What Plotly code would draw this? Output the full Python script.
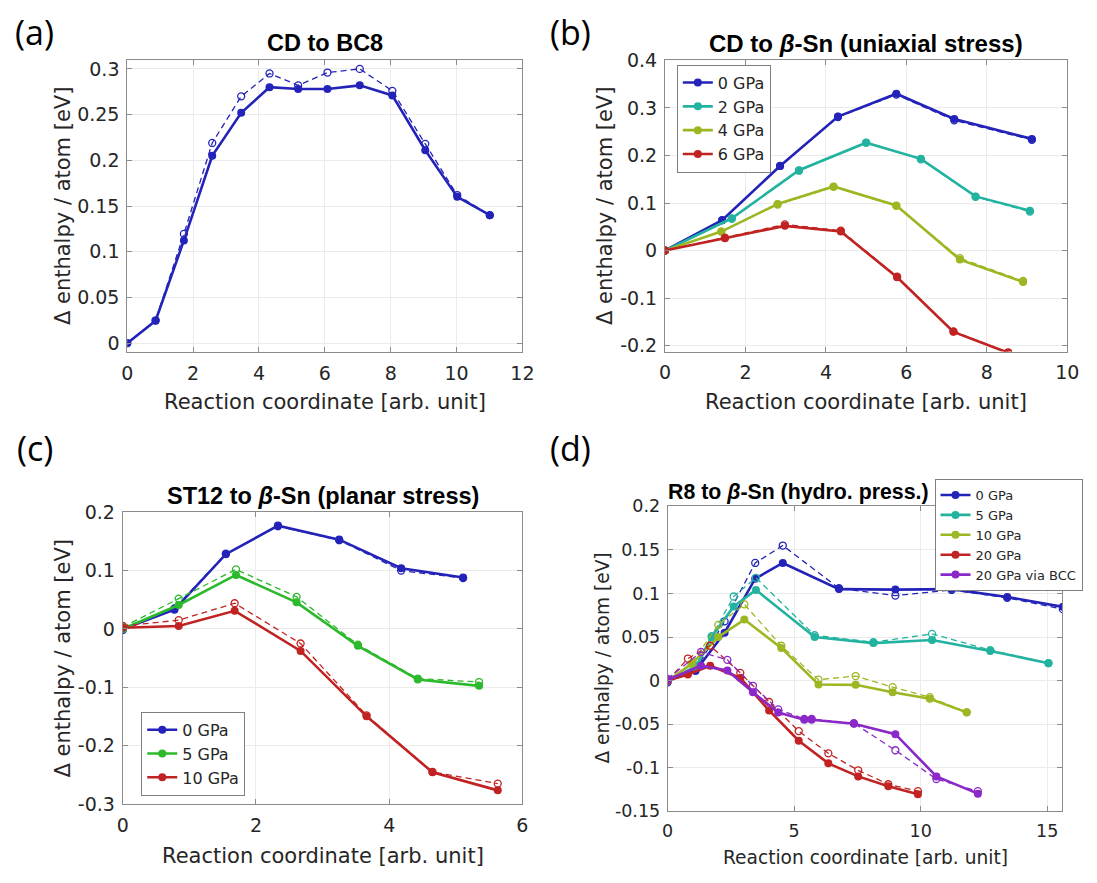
import plotly.graph_objects as go

W, H = 1097, 883

BLUE = '#2323b9'
TEAL = '#22b3a0'
OLIVE = '#9bb722'
RED = '#c12222'
GREEN = '#2cb92c'
PURPLE = '#8b28c8'

# ---- (a) CD to BC8 ----
a_x = [0, 0.86, 1.72, 2.58, 3.46, 4.32, 5.19, 6.08, 7.06, 8.05, 9.05, 10.02, 11.01]
a_solid = [0, 0.0245, 0.1124, 0.205, 0.252, 0.280, 0.278, 0.278, 0.282, 0.271, 0.211, 0.160, 0.140]
a_dash = [0, 0.025, 0.1195, 0.219, 0.270, 0.295, 0.282, 0.296, 0.300, 0.276, 0.218, 0.162, 0.140]

# ---- (b) CD to beta-Sn, uniaxial stress ----
b_labels = ['0 GPa', '2 GPa', '4 GPa', '6 GPa']
b0_x = [0, 1.42, 2.86, 4.30, 5.75, 7.19, 9.12]
b0 = [0, 0.064, 0.178, 0.282, 0.330, 0.277, 0.235]
b0_d = [0, 0.064, 0.178, 0.281, 0.328, 0.274, 0.233]
b2_x = [0, 1.66, 3.33, 5.00, 6.36, 7.72, 9.07]
b2 = [0, 0.068, 0.169, 0.227, 0.193, 0.114, 0.084]
b2_d = [0, 0.067, 0.168, 0.227, 0.192, 0.113, 0.082]
b4_x = [0, 1.40, 2.80, 4.19, 5.75, 7.33, 8.90]
b4 = [0, 0.040, 0.098, 0.135, 0.095, -0.019, -0.066]
b4_d = [0, 0.040, 0.097, 0.134, 0.094, -0.016, -0.064]
b6_x = [0, 1.49, 2.98, 4.37, 5.77, 7.17, 8.53]
b6 = [0, 0.026, 0.052, 0.040, -0.056, -0.171, -0.215]
b6_d = [0, 0.027, 0.055, 0.042, -0.055, -0.170, -0.214]

# ---- (c) ST12 to beta-Sn, planar stress ----
c_labels = ['0 GPa', '5 GPa', '10 GPa']
c0_x = [0, 0.776, 1.548, 2.33, 3.25, 4.18, 5.11]
c0 = [0, 0.033, 0.128, 0.177, 0.153, 0.104, 0.088]
c0_d = [-0.002, 0.035, 0.129, 0.176, 0.152, 0.100, 0.087]
c5_x = [0, 0.84, 1.70, 2.61, 3.53, 4.43, 5.35]
c5 = [0, 0.041, 0.0925, 0.0455, -0.029, -0.0865, -0.0975]
c5_d = [0.003, 0.052, 0.102, 0.055, -0.027, -0.085, -0.091]
c10_x = [0, 0.84, 1.68, 2.67, 3.66, 4.65, 5.63]
c10 = [0.002, 0.005, 0.031, -0.0377, -0.1497, -0.2456, -0.2766]
c10_d = [0.005, 0.015, 0.044, -0.025, -0.148, -0.245, -0.265]

# ---- (d) R8 to beta-Sn, hydrostatic pressure ----
d_labels = ['0 GPa', '5 GPa', '10 GPa', '20 GPa', '20 GPa via BCC']
d0_x = [0, 1.1, 2.25, 3.46, 4.55, 6.77, 9.0, 11.22, 13.42, 15.62]
d0 = [0, 0.011, 0.055, 0.117, 0.135, 0.105, 0.1044, 0.105, 0.096, 0.0846]
d0_d = [-0.002, 0.012, 0.068, 0.135, 0.155, 0.106, 0.0976, 0.104, 0.095, 0.082]
d5_x = [0, 1.1, 1.74, 2.61, 3.49, 5.81, 8.13, 10.45, 12.75, 15.05]
d5 = [0, 0.015, 0.050, 0.085, 0.104, 0.050, 0.043, 0.0466, 0.034, 0.020]
d5_d = [0, 0.017, 0.051, 0.0965, 0.118, 0.052, 0.044, 0.0536, 0.035, 0.020]
d10_x = [0, 0.95, 2.0, 3.03, 4.49, 5.96, 7.43, 8.89, 10.36, 11.82]
d10 = [0, 0.019, 0.050, 0.070, 0.0375, -0.0045, -0.0049, -0.0134, -0.0209, -0.0365]
d10_d = [0, 0.020, 0.064, 0.0875, 0.040, 0.001, 0.0052, -0.0075, -0.019, -0.0365]
d20_x = [0, 0.80, 1.68, 2.87, 4.01, 5.18, 6.35, 7.53, 8.72, 9.89]
d20 = [0, 0.007, 0.017, 0.003, -0.0343, -0.069, -0.095, -0.110, -0.1212, -0.1305]
d20_d = [0, 0.0253, 0.040, 0.0089, -0.0246, -0.058, -0.0835, -0.103, -0.119, -0.127]
dB_x = [0, 1.32, 2.36, 3.37, 4.37, 5.40, 5.69, 7.36, 9.0, 10.62, 12.26]
dB = [0.001, 0.0171, 0.0115, -0.0134, -0.0366, -0.045, -0.045, -0.0496, -0.0615, -0.110, -0.1298]
dB_d = [0.002, 0.0328, 0.0238, -0.006, -0.033, -0.044, -0.044, -0.049, -0.080, -0.113, -0.127]

FONT = 'DejaVu Sans, Liberation Sans, sans-serif'
BOLD_FONT = 'Liberation Sans, Arial, sans-serif'
TXT = '#262626'
AXC = '#8c8c8c'

fig = go.Figure()


def add_pair(x, y_solid, y_dash, color, xa, ya, name=None, legend=None):
    # dashed reference curve with open markers, drawn first
    fig.add_trace(go.Scatter(
        x=x, y=y_dash, mode='lines+markers', xaxis=xa, yaxis=ya,
        line=dict(color=color, width=1.3, dash='6px,4px'),
        marker=dict(symbol='circle-open', size=7, color=color, line=dict(width=1.3)),
        showlegend=False, hoverinfo='skip'))
    # solid curve with filled markers
    fig.add_trace(go.Scatter(
        x=x, y=y_solid, mode='lines+markers', xaxis=xa, yaxis=ya,
        line=dict(color=color, width=2.6),
        marker=dict(symbol='circle', size=8, color=color),
        name=name, showlegend=name is not None,
        legend=legend if legend else 'legend'))


add_pair(a_x, a_solid, a_dash, BLUE, 'x', 'y')

for xs, ys, yd, col, lab in zip([b0_x, b2_x, b4_x, b6_x], [b0, b2, b4, b6],
                                [b0_d, b2_d, b4_d, b6_d], [BLUE, TEAL, OLIVE, RED], b_labels):
    add_pair(xs, ys, yd, col, 'x2', 'y2', lab, 'legend')

for xs, ys, yd, col, lab in zip([c0_x, c5_x, c10_x], [c0, c5, c10],
                                [c0_d, c5_d, c10_d], [BLUE, GREEN, RED], c_labels):
    add_pair(xs, ys, yd, col, 'x3', 'y3', lab, 'legend2')

for xs, ys, yd, col, lab in zip([d0_x, d5_x, d10_x, d20_x, dB_x], [d0, d5, d10, d20, dB],
                                [d0_d, d5_d, d10_d, d20_d, dB_d],
                                [BLUE, TEAL, OLIVE, RED, PURPLE], d_labels):
    add_pair(xs, ys, yd, col, 'x4', 'y4', lab, 'legend3')


def px_x(p):
    return p / W


def px_y(p):
    return 1 - p / H


def fmt(v):
    s = ('%.2f' % v).rstrip('0').rstrip('.')
    return '0' if s in ('-0', '0') else s


def xaxis(dom, rng, ticks, anchor, fs=19):
    return dict(domain=[px_x(dom[0]), px_x(dom[1])], range=rng, anchor=anchor,
                tickvals=ticks, ticktext=[fmt(t) for t in ticks],
                showline=True, linecolor=AXC, linewidth=1, mirror='ticks',
                ticks='inside', ticklen=5, tickcolor=AXC,
                showgrid=True, gridcolor='#ebebeb', gridwidth=1, zeroline=False,
                tickfont=dict(family=FONT, size=fs, color=TXT), ticklabelstandoff=4)


def yaxis(dom, rng, ticks, anchor, fs=19):
    return dict(domain=[px_y(dom[1]), px_y(dom[0])], range=rng, anchor=anchor,
                tickvals=ticks, ticktext=[fmt(t) for t in ticks],
                showline=True, linecolor=AXC, linewidth=1, mirror='ticks',
                ticks='inside', ticklen=5, tickcolor=AXC,
                showgrid=True, gridcolor='#ebebeb', gridwidth=1, zeroline=False,
                tickfont=dict(family=FONT, size=fs, color=TXT), ticklabelstandoff=3)


A_X, A_Y = (123.3, 525), (50, 350)
B_X, B_Y = (670, 1079), (50.7, 349.3)
C_X, C_Y = (118.7, 525), (514, 813.3)
D_X, D_Y = (672.7, 1074), (508, 820.7)

legend_common = dict(bgcolor='white', bordercolor='#7f7f7f', borderwidth=1,
                     xanchor='left', yanchor='top', itemwidth=30,
                     tracegroupgap=0)

fig.update_layout(
    width=W, height=H, margin=dict(l=0, r=0, t=0, b=0),
    paper_bgcolor='white', plot_bgcolor='white',
    font=dict(family=FONT, color=TXT),
    xaxis=xaxis(A_X, [0, 12], [0, 2, 4, 6, 8, 10, 12], 'y'),
    yaxis=yaxis(A_Y, [-0.01, 0.31], [0, 0.05, 0.1, 0.15, 0.2, 0.25, 0.3], 'x'),
    xaxis2=xaxis(B_X, [0, 10], [0, 2, 4, 6, 8, 10], 'y2'),
    yaxis2=yaxis(B_Y, [-0.2125, 0.4], [-0.2, -0.1, 0, 0.1, 0.2, 0.3, 0.4], 'x2'),
    xaxis3=xaxis(C_X, [0, 6], [0, 2, 4, 6], 'y3'),
    yaxis3=yaxis(C_Y, [-0.3, 0.2], [-0.3, -0.2, -0.1, 0, 0.1, 0.2], 'x3'),
    xaxis4=xaxis(D_X, [0, 15.6], [0, 5, 10, 15], 'y4', fs=17.5),
    yaxis4=yaxis(D_Y, [-0.15, 0.2], [-0.15, -0.1, -0.05, 0, 0.05, 0.1, 0.15, 0.2], 'x4',
                 fs=17.5),
    legend=dict(x=px_x(682), y=px_y(55), font=dict(family=FONT, size=16, color=TXT),
                **legend_common),
    legend2=dict(x=px_x(137.5), y=px_y(718.7), font=dict(family=FONT, size=16, color=TXT),
                 **legend_common),
    legend3=dict(x=px_x(944), y=px_y(480), font=dict(family=FONT, size=13, color=TXT),
                 **legend_common),
)

ann = []


def text(x, y, s, size, angle=0, xanchor='center', family=FONT, color=TXT):
    ann.append(dict(x=px_x(x), y=px_y(y), xref='paper', yref='paper', text=s,
                    showarrow=False, textangle=angle, xanchor=xanchor, yanchor='middle',
                    font=dict(family=family, size=size, color=color)))


# panel titles
TS = 23.5
text(324, 33, '<b>CD to BC8</b>', TS, family=BOLD_FONT, color='#000000')
text(874.5, 33, '<b>CD to <i>β</i>-Sn (uniaxial stress)</b>', 24, family=BOLD_FONT, color='#000000')
text(322, 497.5, '<b>ST12 to <i>β</i>-Sn (planar stress)</b>', TS, family=BOLD_FONT, color='#000000')
text(671, 493, '<b>R8 to <i>β</i>-Sn (hydro. press.)</b>', 21.3, family=BOLD_FONT,
     color='#000000', xanchor='left')

# axis titles
XL = 'Reaction coordinate [arb. unit]'
YL = 'Δ enthalpy / atom [eV]'
text(324, 401, XL, 21)
text(874.5, 401, XL, 21)
text(322, 867, XL, 21)
text(873.4, 868, XL, 18.6)
text(58, 200, YL, 21, angle=-90)
text(609, 200, YL, 21, angle=-90)
text(58, 664, YL, 21, angle=-90)
text(606, 664, YL, 18.6, angle=-90)

# panel letters
PL = 'Open Sans, Noto Sans, sans-serif'
text(29, 22, '(a)', 34, family=PL, color='#000000')
text(574, 22, '(b)', 34, family=PL, color='#000000')
text(29, 448, '(c)', 34, family=PL, color='#000000')
text(574, 448, '(d)', 34, family=PL, color='#000000')

fig.update_layout(annotations=ann)

fig.write_html('out.html')
